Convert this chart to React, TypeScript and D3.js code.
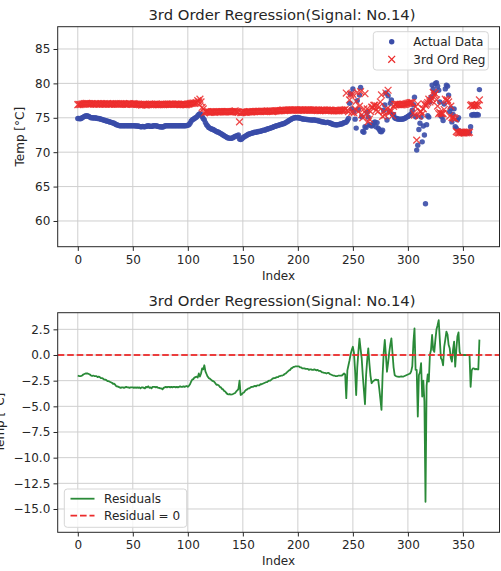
import { useEffect, useRef } from 'react';
import * as d3 from 'd3';

const TITLE = '3rd Order Regression(Signal: No.14)';
const X_TICKS = [0, 50, 100, 150, 200, 250, 300, 350];
const TEMP_TICKS = [60, 65, 70, 75, 80, 85];
const RESID_TICKS = [2.5, 0, -2.5, -5, -7.5, -10, -12.5, -15];

// measured temperature, one value per index 0..365
const actual = [
  74.9, 74.9, 74.85, 74.9, 75.0, 75.1, 75.2, 75.25, 75.3, 75.25,
  75.2, 75.1, 75.0, 75.0, 75.0, 74.95, 75.0, 74.95, 74.9, 74.9,
  74.85, 74.8, 74.75, 74.7, 74.65, 74.6, 74.55, 74.5, 74.45, 74.4,
  74.35, 74.3, 74.25, 74.2, 74.1, 74.0, 73.95, 73.9, 73.85, 73.85,
  73.85, 73.85, 73.85, 73.85, 73.85, 73.85, 73.85, 73.85, 73.85, 73.85,
  73.85, 73.85, 73.85, 73.8, 73.8, 73.8, 73.75, 73.7, 73.7, 73.75,
  73.7, 73.7, 73.75, 73.8, 73.85, 73.8, 73.75, 73.75, 73.8, 73.85,
  73.85, 73.85, 73.8, 73.75, 73.7, 73.7, 73.65, 73.65, 73.7, 73.8,
  73.85, 73.85, 73.85, 73.85, 73.85, 73.85, 73.85, 73.85, 73.85, 73.85,
  73.85, 73.85, 73.85, 73.85, 73.85, 73.85, 73.85, 73.85, 73.85, 73.88,
  73.9, 74.0, 74.2, 74.5, 74.7, 74.8, 74.9, 75.0, 75.1, 75.3,
  75.5, 75.6, 75.5, 75.2, 74.9, 74.7, 74.3, 74.0, 73.8, 73.6,
  73.5, 73.4, 73.35, 73.3, 73.2, 73.1, 73.0, 72.95, 72.9, 72.8,
  72.7, 72.6, 72.5, 72.4, 72.3, 72.2, 72.1, 72.05, 72.05, 72.0,
  72.05, 72.1, 72.2, 72.3, 72.35, 72.4, 72.5, 71.9, 71.85, 71.9,
  72.1, 72.2, 72.3, 72.4, 72.5, 72.6, 72.65, 72.7, 72.75, 72.8,
  72.85, 72.9, 72.9, 72.95, 73.0, 73.0, 73.05, 73.1, 73.15, 73.2,
  73.2, 73.3, 73.35, 73.4, 73.45, 73.5, 73.55, 73.6, 73.7, 73.75,
  73.8, 73.85, 73.9, 73.95, 74.0, 74.05, 74.1, 74.15, 74.2, 74.3,
  74.4, 74.5, 74.6, 74.7, 74.8, 74.9, 74.95, 75.0, 75.05, 75.0,
  75.0, 75.0, 74.95, 74.9, 74.85, 74.8, 74.8, 74.8, 74.75, 74.75,
  74.7, 74.7, 74.7, 74.65, 74.7, 74.7, 74.65, 74.6, 74.6, 74.55,
  74.5, 74.45, 74.4, 74.4, 74.35, 74.3, 74.3, 74.35, 74.3, 74.25,
  74.2, 74.1, 74.05, 74.0, 74.0, 73.95, 74.0, 74.0, 74.05, 74.1,
  74.1, 74.2, 74.3, 74.3, 74.4, 74.6, 74.9, 77.1, 78.5, 76.3,
  79.2, 75.9, 74.8, 73.5, 77.5, 76.2, 78.3, 79.4, 75.15, 73.0,
  72.9, 73.7, 73.6, 75.8, 75.1, 74.0, 73.9, 73.8, 73.9, 74.3,
  74.4, 73.7, 74.3, 73.5, 73.3, 73.0, 72.97, 73.2, 76.1, 76.85,
  78.6, 74.67, 78.2, 75.9, 77.1, 77.6, 75.5, 75.47, 75.0, 74.9,
  74.9, 74.8, 74.8, 74.8, 74.8, 74.8, 74.85, 74.9, 75.0, 75.1,
  75.2, 75.3, 75.4, 75.6, 76.1, 76.9, 78.0, 75.15, 70.3, 71.0,
  73.3, 74.2, 75.1, 71.5, 73.8, 72.5, 62.5, 74.0, 75.3, 75.1,
  77.3, 78.0, 79.75, 79.2, 78.6, 80.0, 80.1, 79.6, 79.0, 77.3,
  75.3, 75.1, 74.6, 77.0, 79.2, 79.75, 79.6, 78.3, 75.9, 76.4,
  74.4, 75.5, 76.3, 73.7, 73.5, 74.7, 75.0, 73.1, 72.9, 72.8,
  72.9, 72.8, 72.9, 72.8, 72.9, 72.8, 72.9, 73.7, 75.4, 75.4,
  75.5, 75.4, 75.4, 75.5, 75.4, 79.1,
];

// 3rd order regression output, one value per index 0..365
const predicted = [
  76.9, 76.95, 76.9, 76.95, 77.0, 77.0, 77.05, 77.05, 77.1, 77.05,
  77.05, 77.0, 77.0, 77.05, 77.0, 77.0, 77.05, 77.0, 77.05, 77.0,
  77.0, 77.05, 77.0, 77.0, 77.05, 77.0, 77.0, 77.05, 77.0, 77.0,
  77.0, 77.0, 77.05, 77.0, 77.0, 77.05, 77.0, 77.0, 77.0, 77.05,
  77.0, 77.0, 77.05, 77.0, 76.95, 77.0, 77.0, 77.05, 77.0, 77.0,
  77.0, 77.05, 77.0, 77.0, 76.95, 77.0, 76.9, 76.95, 76.85, 76.9,
  76.9, 76.95, 76.85, 76.95, 76.9, 77.0, 76.9, 77.0, 76.9, 76.95,
  76.95, 77.0, 76.9, 76.95, 76.9, 76.95, 76.9, 77.0, 76.9, 76.95,
  76.95, 77.0, 76.95, 76.95, 77.0, 76.95, 77.0, 76.95, 76.95, 77.0,
  76.95, 77.0, 76.95, 76.9, 76.95, 76.95, 76.9, 76.95, 76.9, 76.9,
  77.0, 77.0, 77.05, 77.1, 77.1, 77.15, 77.1, 77.15, 77.2, 77.5,
  77.3, 77.7, 77.3, 76.5, 76.3, 75.7, 75.9, 75.85, 75.9, 75.85,
  75.8, 75.8, 75.85, 75.85, 75.8, 75.85, 75.9, 75.85, 75.85, 75.9,
  75.85, 75.9, 75.85, 75.9, 75.85, 75.9, 75.9, 75.88, 75.85, 75.85,
  75.88, 75.9, 75.95, 76.0, 75.9, 75.85, 75.8, 74.4, 75.75, 75.75,
  75.8, 75.85, 75.8, 75.8, 75.85, 75.85, 75.9, 75.85, 75.85, 75.9,
  75.9, 75.9, 75.95, 75.9, 75.95, 75.95, 75.9, 75.95, 75.95, 75.95,
  75.9, 75.95, 76.0, 75.95, 75.95, 76.0, 75.95, 75.9, 75.95, 76.0,
  76.0, 76.0, 76.05, 76.0, 76.05, 76.05, 76.1, 76.1, 76.05, 76.1,
  76.1, 76.1, 76.1, 76.15, 76.1, 76.15, 76.1, 76.15, 76.15, 76.1,
  76.1, 76.1, 76.15, 76.1, 76.15, 76.1, 76.1, 76.15, 76.1, 76.1,
  76.15, 76.1, 76.1, 76.1, 76.15, 76.1, 76.1, 76.1, 76.05, 76.1,
  76.05, 76.05, 76.1, 76.1, 76.1, 76.05, 76.1, 76.1, 76.05, 76.1,
  76.1, 76.05, 76.05, 76.0, 76.05, 76.0, 76.05, 76.0, 76.05, 76.1,
  76.1, 76.1, 76.1, 76.2, 78.6, 76.1, 75.9, 77.6, 78.4, 75.8,
  78.4, 75.7, 76.3, 77.4, 78.7, 75.9, 76.7, 78.8, 75.45, 75.0,
  76.3, 78.5, 75.6, 76.3, 74.45, 74.8, 75.9, 76.55, 76.5, 76.8,
  76.83, 76.1, 76.75, 75.93, 76.6, 77.3, 78.32, 75.2, 75.9, 75.39,
  78.6, 76.3, 79.0, 75.7, 76.1, 75.98, 75.3, 76.67, 76.95, 76.95,
  77.0, 76.9, 76.92, 76.9, 76.88, 76.9, 76.95, 76.95, 77.0, 77.05,
  77.1, 77.15, 77.2, 77.2, 77.2, 75.7, 75.4, 76.6, 71.76, 77.0,
  75.25, 75.9, 75.9, 75.55, 76.3, 77.0, 76.8, 77.0, 77.2, 77.7,
  77.3, 77.5, 77.8, 78.7, 78.3, 78.5, 77.6, 76.7, 75.6, 75.8,
  75.6, 75.6, 75.6, 76.2, 77.7, 77.48, 77.6, 77.3, 75.25, 76.7,
  75.05, 75.0, 75.0, 74.83, 73.0, 72.9, 72.8, 72.8, 72.9, 72.8,
  72.9, 72.78, 72.9, 72.82, 72.9, 72.8, 72.9, 76.8, 76.9, 76.7,
  76.8, 76.8, 76.75, 76.9, 76.8, 77.6,
];

const FONT = "'DejaVu Sans', sans-serif";
const TEXT = '#262626';
const BLUE = '#3a4ca8';
const RED = '#ec2b2b';
const GREEN = '#2a8a38';

export default function App() {
  const ref = useRef<SVGSVGElement>(null);

  useEffect(() => {
    if (!ref.current) return;
    const svg = d3.select(ref.current);
    svg.selectAll('*').remove();

    const residuals = actual.map((v, i) => v - predicted[i]);
    const left = 57.7;
    const right = 499.5;
    const x = d3.scaleLinear().domain([-18.25, 383.25]).range([left, right]);

    const panels = [
      { top: 26.7, bottom: 246.7, titleY: 19.8, domain: [56.26, 88.24], ticks: TEMP_TICKS, fmt: (d: number) => String(d), labelX: 23.5, id: 'clipTop' },
      { top: 312.7, bottom: 532.3, titleY: 305.5, domain: [-17.27, 4.12], ticks: RESID_TICKS, fmt: (d: number) => d3.format('.1f')(d).replace('-', '\u2212'), labelX: 3.5, id: 'clipBot' },
    ];

    const scales = panels.map(p => {
      const y = d3.scaleLinear().domain(p.domain).range([p.bottom, p.top]);
      const g = svg.append('g');

      svg.append('defs').append('clipPath').attr('id', p.id)
        .append('rect').attr('x', left).attr('y', p.top).attr('width', right - left).attr('height', p.bottom - p.top);

      // grid
      g.selectAll('.gx').data(X_TICKS).join('line')
        .attr('x1', d => x(d)).attr('x2', d => x(d)).attr('y1', p.top).attr('y2', p.bottom)
        .attr('stroke', '#cfcfcf').attr('stroke-width', 1);
      g.selectAll('.gy').data(p.ticks).join('line')
        .attr('x1', left).attr('x2', right).attr('y1', d => y(d)).attr('y2', d => y(d))
        .attr('stroke', '#cfcfcf').attr('stroke-width', 1);

      // axes
      const ax = svg.append('g').attr('transform', `translate(0,${p.bottom})`)
        .call(d3.axisBottom(x).tickValues(X_TICKS).tickSize(4.2).tickPadding(4.2).tickSizeOuter(0));
      const ay = svg.append('g').attr('transform', `translate(${left},0)`)
        .call(d3.axisLeft(y).tickValues(p.ticks).tickFormat(p.fmt as any).tickSize(4.2).tickPadding(3.2).tickSizeOuter(0));
      [ax, ay].forEach(a => {
        a.select('.domain').remove();
        a.attr('font-family', FONT).attr('font-size', 12);
        a.selectAll('line').attr('stroke', TEXT);
        a.selectAll('text').attr('fill', TEXT);
      });

      svg.append('text').attr('x', 282).attr('y', p.titleY)
        .attr('text-anchor', 'middle').attr('font-family', FONT).attr('font-size', 14.8).attr('fill', TEXT)
        .text(TITLE);
      svg.append('text').attr('x', (left + right) / 2).attr('y', p.bottom + 33)
        .attr('text-anchor', 'middle').attr('font-family', FONT).attr('font-size', 12).attr('fill', TEXT)
        .text('Index');
      svg.append('text')
        .attr('transform', `translate(${p.labelX},${(p.top + p.bottom) / 2}) rotate(-90)`)
        .attr('text-anchor', 'middle').attr('font-family', FONT).attr('font-size', 12).attr('fill', TEXT)
        .text('Temp [°C]');

      return { y, p };
    });

    const yTop = scales[0].y;
    const yBot = scales[1].y;

    // top panel: actual data and regression
    const top = svg.append('g').attr('clip-path', 'url(#clipTop)');
    top.selectAll('circle').data(actual).join('circle')
      .attr('cx', (_, i) => x(i)).attr('cy', d => yTop(d)).attr('r', 2.7)
      .attr('fill', BLUE).attr('opacity', 0.9);
    const xMark = 'M-3.4,-3.4L3.4,3.4M-3.4,3.4L3.4,-3.4';
    top.selectAll('path').data(predicted).join('path')
      .attr('d', xMark).attr('transform', (d, i) => `translate(${x(i)},${yTop(d)})`)
      .attr('fill', 'none').attr('stroke', RED).attr('stroke-width', 1.3).attr('opacity', 0.85);

    // bottom panel: residuals
    const bot = svg.append('g').attr('clip-path', 'url(#clipBot)');
    bot.append('path').datum(residuals)
      .attr('d', d3.line<number>().x((_, i) => x(i)).y(d => yBot(d)))
      .attr('fill', 'none').attr('stroke', GREEN).attr('stroke-width', 1.8).attr('stroke-linejoin', 'round');
    bot.append('line').attr('x1', left).attr('x2', right).attr('y1', yBot(0)).attr('y2', yBot(0))
      .attr('stroke', RED).attr('stroke-width', 1.8).attr('stroke-dasharray', '6.6,2.9').attr('opacity', 0.9);

    // frames
    scales.forEach(({ p }) => {
      svg.append('rect').attr('x', left).attr('y', p.top).attr('width', right - left).attr('height', p.bottom - p.top)
        .attr('fill', 'none').attr('stroke', TEXT).attr('stroke-width', 1);
    });

    // legends
    const lg1 = svg.append('g').attr('font-family', FONT).attr('font-size', 12).attr('fill', TEXT);
    lg1.append('rect').attr('x', 373.3).attr('y', 31.7).attr('width', 115).attr('height', 38.3).attr('rx', 3)
      .attr('fill', 'white').attr('fill-opacity', 0.8).attr('stroke', '#d6d6d6');
    lg1.append('circle').attr('cx', 391.7).attr('cy', 41.7).attr('r', 2.7).attr('fill', BLUE);
    lg1.append('path').attr('d', xMark).attr('transform', 'translate(391.7,59.3)')
      .attr('fill', 'none').attr('stroke', RED).attr('stroke-width', 1.3);
    lg1.append('text').attr('x', 413.3).attr('y', 41.7).attr('dy', '0.35em').text('Actual Data');
    lg1.append('text').attr('x', 413.3).attr('y', 59.3).attr('dy', '0.35em').text('3rd Ord Reg');

    const lg2 = svg.append('g').attr('font-family', FONT).attr('font-size', 12).attr('fill', TEXT);
    lg2.append('rect').attr('x', 64.3).attr('y', 489).attr('width', 122.4).attr('height', 38.3).attr('rx', 3)
      .attr('fill', 'white').attr('fill-opacity', 0.8).attr('stroke', '#d6d6d6');
    lg2.append('line').attr('x1', 70.5).attr('x2', 94.5).attr('y1', 498.7).attr('y2', 498.7)
      .attr('stroke', GREEN).attr('stroke-width', 1.8);
    lg2.append('line').attr('x1', 70.5).attr('x2', 94.5).attr('y1', 515.7).attr('y2', 515.7)
      .attr('stroke', RED).attr('stroke-width', 1.8).attr('stroke-dasharray', '6.6,2.9');
    lg2.append('text').attr('x', 104.1).attr('y', 498.7).attr('dy', '0.35em').text('Residuals');
    lg2.append('text').attr('x', 104.1).attr('y', 515.7).attr('dy', '0.35em').text('Residual = 0');
  }, []);

  return (
    <div style={{ position: 'absolute', left: 0, top: 0, background: 'white' }}>
      <svg ref={ref} width={501} height={571} style={{ display: 'block' }} />
    </div>
  );
}
